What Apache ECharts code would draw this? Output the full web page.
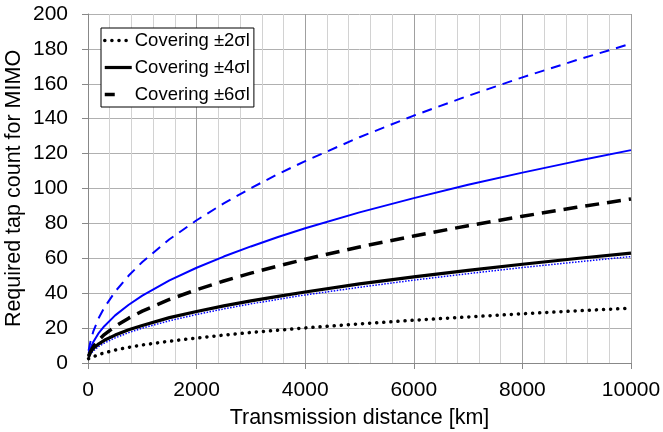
<!DOCTYPE html>
<html>
<head>
<meta charset="utf-8">
<script src="https://cdn.jsdelivr.net/npm/echarts@6/dist/echarts.min.js"></script>
<style>html,body{margin:0;padding:0;background:#fff}#c{width:663px;height:432px}</style>
</head>
<body>
<div id="c"></div>
<script>
const distances = [10, 50, 100, 200, 300, 500, 750, 1000, 1500, 2000, 2500, 3000, 3500, 4000, 5000, 6000, 7000, 8000, 9000, 10000];
const black2s = [2.5, 3.0, 3.6, 4.9, 5.8, 7.4, 9.0, 10.3, 12.5, 14.3, 16.0, 17.5, 18.8, 20.1, 22.4, 24.5, 26.4, 28.2, 29.9, 31.4];
const black4s = [3.5, 6.5, 8.5, 11.0, 13.0, 16.0, 19.0, 21.5, 26.0, 29.5, 32.7, 35.6, 38.2, 40.7, 45.3, 49.4, 53.1, 56.6, 59.9, 63.0];
const black6s = [4.0, 6.8, 9.4, 13.3, 16.3, 21.0, 25.7, 29.7, 36.4, 42.0, 47.0, 51.5, 55.6, 59.5, 66.5, 72.8, 78.7, 84.1, 89.2, 94.0];
const blue2s = [3.0, 5.2, 7.0, 9.5, 11.4, 14.4, 17.4, 20.0, 24.2, 27.8, 31.0, 33.9, 36.5, 39.0, 43.4, 47.5, 51.2, 54.7, 57.9, 61.0];
const blue4s = [5.5, 8.6, 12.2, 17.3, 21.1, 27.3, 33.4, 38.6, 47.3, 54.6, 61.0, 66.8, 72.2, 77.2, 86.3, 94.5, 102.1, 109.1, 115.7, 122.0];
const blue6s = [7.0, 12.9, 18.3, 25.9, 31.7, 40.9, 50.1, 57.9, 70.9, 81.8, 91.5, 100.2, 108.3, 115.7, 129.4, 141.8, 153.1, 163.7, 173.6, 183.0];
const legendNames = ['Covering ±2σl', 'Covering ±4σl', 'Covering ±6σl'];

const pairs = arr => distances.map((d, i) => [d, arr[i]]);
const font = 'Arial, "Liberation Sans", sans-serif';

const chart = echarts.init(document.getElementById('c'), null, {renderer: 'canvas'});
const mk = (name, arr, color, width, type, cap, z) => ({
  name, type: 'line', data: pairs(arr), showSymbol: false, symbol: 'none', smooth: false,
  z: z,
  lineStyle: {color, width, type, cap: cap || 'butt'},
  itemStyle: {color},
  emphasis: {disabled: true},
  animation: false
});
const legendStyles = [
  {width: 3.5, type: [0.1, 7], cap: 'round'},
  {width: 3.2, type: 'solid', cap: 'butt'},
  {width: 3.5, type: [10, 40], cap: 'butt'}
];
chart.setOption({
  animation: false,
  textStyle: {fontFamily: font},
  grid: {left: 88, right: 32, top: 14, bottom: 69, containLabel: false, outerBoundsMode: 'none'},
  legend: {
    data: legendNames.map((n, i) => ({
      name: n,
      itemStyle: {opacity: 0, borderWidth: 0},
      lineStyle: Object.assign({color: '#000', opacity: 1}, legendStyles[i])
    })),
    orient: 'vertical',
    left: 101, top: 28,
    itemWidth: 27, itemHeight: 14, itemGap: 8,
    padding: [3, 4, 3, 2],
    backgroundColor: '#fff',
    borderColor: '#000', borderWidth: 1, borderRadius: 0,
    selectedMode: false,
    textStyle: {fontSize: 18.5, color: '#000', fontFamily: font, padding: [0, 0, 0, -2]},
    z: 10
  },
  xAxis: {
    type: 'value', min: 0, max: 10000, interval: 2000,
    name: 'Transmission distance [km]', nameLocation: 'middle', nameGap: 44, nameMoveOverlap: false,
    nameTextStyle: {fontSize: 21.5, color: '#000', fontFamily: font},
    axisLine: {show: true, lineStyle: {color: '#888', width: 1}},
    axisTick: {show: true, length: 6, lineStyle: {color: '#888'}},
    axisLabel: {fontSize: 21, color: '#000', margin: 17, fontFamily: font, formatter: v => String(v)},
    splitLine: {show: true, lineStyle: {color: '#a0a0a0', width: 1}},
    minorTick: {show: false, splitNumber: 5},
    minorSplitLine: {show: true, lineStyle: {color: '#d2d2d2', width: 1}}
  },
  yAxis: {
    type: 'value', min: 0, max: 200, interval: 20,
    name: 'Required tap count for MIMO', nameLocation: 'middle', nameGap: 63, nameMoveOverlap: false,
    nameTextStyle: {fontSize: 21.5, color: '#000', fontFamily: font},
    axisLine: {show: true, lineStyle: {color: '#888', width: 1}},
    axisTick: {show: true, length: 6, lineStyle: {color: '#888'}},
    axisLabel: {fontSize: 21, color: '#000', margin: 20, fontFamily: font},
    splitLine: {show: true, lineStyle: {color: '#b0b0b0', width: 1}}
  },
  series: [
    mk('Blue ±6', blue6s, '#0000ff', 2, [10, 7], 'butt', 2),
    mk('Blue ±4', blue4s, '#0000ff', 2, 'solid', 'butt', 2),
    mk('Blue ±2', blue2s, '#0000ff', 1.5, [1.5, 1.5], 'butt', 2),
    mk(legendNames[2], black6s, '#000000', 3.5, [14, 8], 'butt', 3),
    mk(legendNames[1], black4s, '#000000', 3.2, 'solid', 'butt', 4),
    mk(legendNames[0], black2s, '#000000', 3.5, [0.1, 7], 'round', 3)
  ]
});
</script>
</body>
</html>
